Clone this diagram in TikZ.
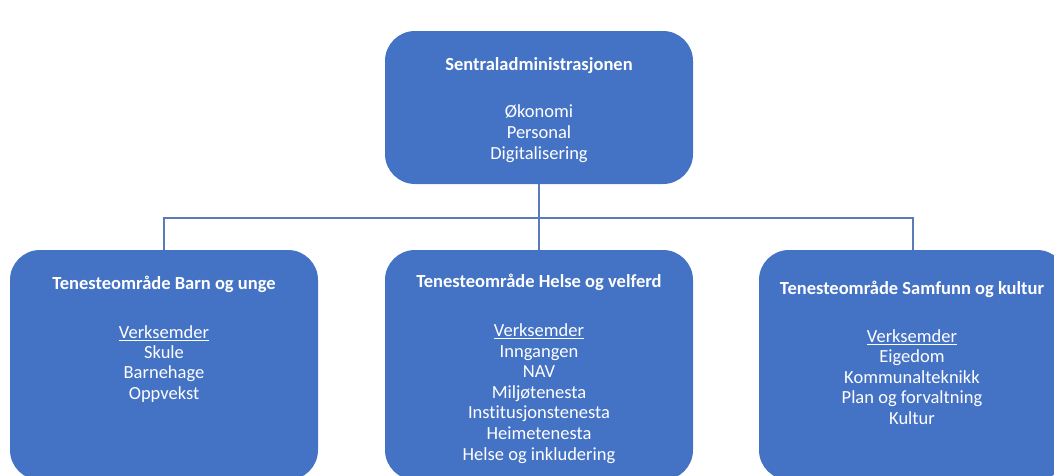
\documentclass[tikz,border=0pt]{standalone}
\usepackage{fontspec}
\setmainfont{Carlito}[Ligatures=NoCommon]
\definecolor{boxblue}{HTML}{4472C4}
\definecolor{linkblue}{HTML}{5B7BB8}
\begin{document}
\begin{tikzpicture}[x=1pt,y=-1pt,
  box/.style={draw=none,fill=boxblue,rounded corners=30pt,minimum width=308pt,inner sep=0pt,outer sep=0pt},
  head/.style={text=white,font=\fontsize{18.5}{20}\selectfont\bfseries,anchor=base,inner sep=0pt},
  item/.style={text=white,font=\fontsize{18.5}{20}\selectfont,anchor=base,inner sep=0pt},
  link/.style={draw=linkblue,line width=1.5pt}]
\useasboundingbox (0,0) rectangle (1054,475);
\clip (0,0) rectangle (1054,475);
% boxes
\node[box,minimum height=153pt] (top) at (539,107.5) {};
\node[box,minimum height=230pt] (left) at (164,365) {};
\node[box,minimum height=230pt] (mid) at (539,365) {};
\node[box,minimum height=230pt] (right) at (913,365) {};
% connectors
\coordinate (hub) at (539,218);
\draw[link] (top.south) -- (hub);
\draw[link] (hub) -- (mid.north);
\draw[link] (left.north) |- (hub) -| (right.north);
% top texts
\node[head] (toph) at (539,70) {Sentraladministrasjonen};
\foreach \t [count=\i] in {Økonomi, Personal, Digitalisering}
  \node[item] (t\i) at (539,{117.5+20.75*(\i-1)}) {\t};
% left texts
\node[head] (lefth) at (164,289) {Tenesteområde Barn og unge};
\foreach \t [count=\i] in {{\underline{Verksemder}}, Skule, Barnehage, Oppvekst}
  \node[item] (l\i) at (164,{338.5+20.2*(\i-1)}) {\t};
% middle texts
\node[head] (midh) at (539,287.7) {Tenesteområde Helse og velferd};
\foreach \t [count=\i] in {{\underline{Verksemder}}, Inngangen, NAV, Miljøtenesta, Institusjonstenesta, Heimetenesta, Helse og inkludering}
  \node[item] (m\i) at (539,{336.7+20.55*(\i-1)}) {\t};
% right texts
\node[head] (righth) at (912,294) {Tenesteområde Samfunn og kultur};
\foreach \t [count=\i] in {{\underline{Verksemder}}, Eigedom, Kommunalteknikk, Plan og forvaltning, Kultur}
  \node[item] (r\i) at (912,{342.5+20.4*(\i-1)}) {\t};
\end{tikzpicture}
\end{document}
